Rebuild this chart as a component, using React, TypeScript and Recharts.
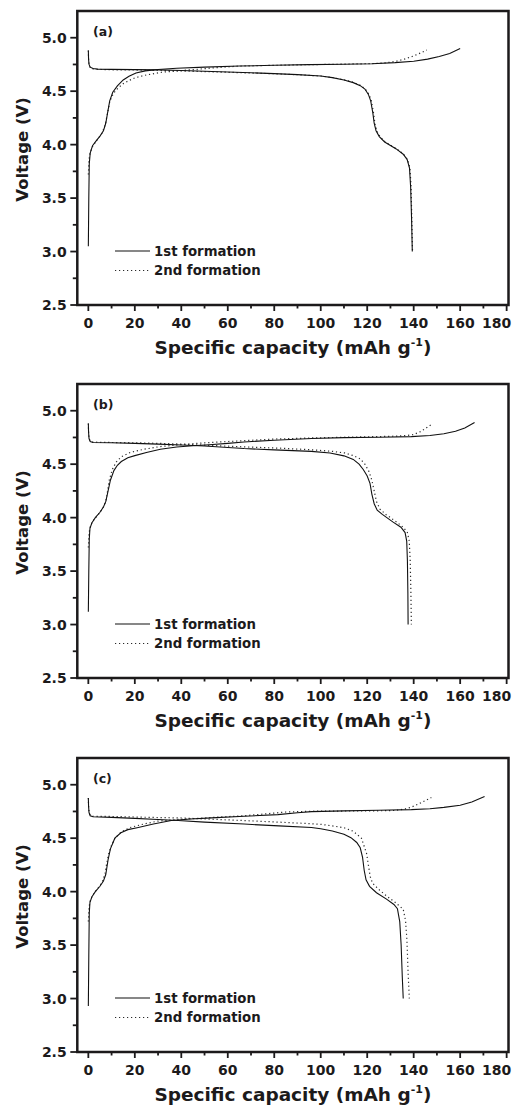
import React from 'react';
import { LineChart, Line, XAxis, YAxis, ReferenceArea } from 'recharts';

type Pt = [number, number]; // [capacity mAh/g, voltage V]

// (a)
const aCharge1: Pt[] = [[0,3.05],[0.2,3.5],[0.4,3.82],[0.8,3.92],[1.8,3.99],[3.2,4.03],[5,4.08],[6.5,4.13],[7.5,4.2],[8.3,4.3],[9.2,4.41],[10.5,4.49],[12.5,4.55],[15,4.605],[17.5,4.64],[20.5,4.67],[24.5,4.69],[30,4.703],[38,4.715],[50,4.725],[65,4.735],[80,4.742],[95,4.748],[110,4.752],[122,4.757],[132,4.767],[140,4.78],[146,4.8],[151,4.825],[155.5,4.853],[160,4.9]];
const aDischarge1: Pt[] = [[0,4.88],[0.1,4.8],[0.3,4.75],[0.8,4.725],[2,4.712],[4,4.706],[10,4.704],[20,4.702],[30,4.699],[40,4.694],[50,4.687],[60,4.68],[70,4.672],[80,4.664],[90,4.655],[100,4.642],[105,4.627],[110,4.605],[114,4.58],[117,4.552],[119,4.52],[120.5,4.47],[121.5,4.41],[122.4,4.3],[123,4.2],[123.8,4.13],[125.2,4.075],[127.5,4.025],[132.5,3.96],[135.5,3.91],[137.2,3.86],[138.2,3.78],[138.7,3.6],[139.1,3.3],[139.4,3.0]];
const aCharge2: Pt[] = [[0,3.72],[0.3,3.86],[0.8,3.93],[2,3.99],[4,4.05],[6,4.11],[7.3,4.19],[8.3,4.3],[9.3,4.41],[10.8,4.48],[12.8,4.53],[15,4.57],[17.5,4.6],[20,4.625],[25,4.652],[32,4.678],[40,4.693],[47,4.705],[55,4.72],[65,4.735],[80,4.742],[95,4.748],[110,4.753],[122,4.758],[128,4.765],[132.5,4.78],[136,4.8],[140,4.83],[143,4.858],[145.7,4.885]];
const aDischarge2: Pt[] = [[0,4.88],[0.1,4.8],[0.3,4.748],[0.8,4.72],[2,4.709],[4,4.704],[10,4.7],[20,4.698],[30,4.694],[40,4.689],[50,4.683],[60,4.677],[70,4.67],[80,4.663],[90,4.654],[100,4.642],[105,4.628],[110,4.607],[114,4.583],[117,4.555],[119.2,4.52],[120.8,4.47],[121.8,4.41],[122.7,4.3],[123.3,4.2],[124.1,4.13],[125.5,4.075],[127.8,4.025],[132.7,3.96],[135.7,3.91],[137.4,3.86],[138.4,3.78],[138.9,3.6],[139.2,3.3],[139.5,3.0]];

// (b)
const bCharge1: Pt[] = [[0,3.12],[0.2,3.5],[0.4,3.8],[0.7,3.9],[1.5,3.95],[3,4.0],[5,4.05],[6.5,4.1],[7.5,4.15],[8.5,4.25],[9.5,4.35],[11,4.44],[12.5,4.49],[14.2,4.525],[17,4.56],[20,4.58],[25,4.61],[31,4.64],[38,4.66],[45,4.672],[52,4.682],[60,4.695],[67,4.708],[80,4.724],[96,4.74],[110,4.748],[125,4.752],[139,4.758],[147,4.768],[153,4.785],[158,4.808],[162,4.838],[166.2,4.89]];
const bDischarge1: Pt[] = [[0,4.88],[0.1,4.8],[0.3,4.74],[0.8,4.712],[2,4.703],[10,4.7],[20,4.695],[30,4.688],[40,4.68],[50,4.67],[60,4.656],[67,4.646],[80,4.634],[96,4.62],[104,4.605],[110,4.578],[114,4.545],[116.5,4.5],[118.3,4.45],[120,4.39],[121.2,4.32],[122,4.22],[123,4.13],[124.3,4.07],[126.5,4.03],[131,3.96],[134.5,3.91],[136.3,3.86],[137,3.78],[137.3,3.6],[137.5,3.3],[137.6,3.0]];
const bCharge2: Pt[] = [[0,3.72],[0.3,3.85],[0.8,3.92],[2,3.97],[4,4.02],[6,4.08],[7.5,4.15],[8.3,4.25],[9,4.35],[10.3,4.45],[12,4.52],[14.2,4.57],[18,4.61],[24,4.64],[31,4.665],[38.6,4.68],[50,4.7],[67,4.72],[80,4.735],[96,4.745],[110,4.752],[125,4.758],[132,4.762],[137,4.768],[140,4.778],[143,4.805],[145.5,4.84],[148.3,4.88]];
const bDischarge2: Pt[] = [[0,4.88],[0.1,4.8],[0.3,4.742],[0.8,4.715],[2,4.706],[10,4.703],[20,4.7],[30,4.695],[40,4.688],[53,4.675],[67,4.662],[82,4.65],[96,4.635],[105,4.62],[110.3,4.605],[114,4.58],[117,4.55],[119,4.5],[120.8,4.43],[122,4.35],[123,4.25],[124,4.15],[125.5,4.08],[128,4.03],[132.6,3.96],[135.5,3.91],[137.3,3.86],[138.1,3.78],[138.5,3.6],[138.8,3.3],[139,3.0]];

// (c)
const cCharge1: Pt[] = [[0,2.93],[0.2,3.4],[0.4,3.8],[0.7,3.9],[1.5,3.95],[3,4.0],[5,4.05],[6.5,4.1],[7.5,4.16],[8.5,4.3],[9.5,4.4],[11.4,4.5],[14,4.55],[17,4.58],[21,4.598],[28,4.632],[35.7,4.665],[44,4.68],[53,4.69],[67,4.705],[81.6,4.72],[90,4.738],[96,4.748],[110,4.755],[125,4.761],[139,4.767],[147,4.775],[153,4.788],[160,4.808],[165,4.838],[170.5,4.89]];
const cDischarge1: Pt[] = [[0,4.876],[0.1,4.8],[0.3,4.74],[0.8,4.71],[2,4.7],[10,4.695],[20,4.685],[30,4.675],[38.6,4.665],[50,4.65],[67,4.632],[82,4.615],[96,4.6],[100,4.588],[105,4.567],[110,4.537],[113,4.505],[115.5,4.46],[117,4.41],[118,4.32],[118.7,4.2],[119.5,4.11],[121,4.05],[124,3.99],[128.3,3.93],[131.5,3.88],[133,3.84],[134,3.72],[134.6,3.5],[135.1,3.2],[135.5,3.0]];
const cCharge2: Pt[] = [[0,3.72],[0.3,3.85],[0.8,3.92],[2,3.97],[4,4.03],[6,4.09],[7.2,4.17],[7.8,4.25],[8.7,4.35],[9.9,4.43],[11.5,4.5],[14.2,4.56],[18,4.6],[24.3,4.635],[30,4.66],[38.6,4.675],[50,4.69],[67,4.71],[75,4.725],[85,4.745],[96,4.752],[110,4.754],[125,4.756],[131.8,4.759],[136,4.772],[139,4.79],[143,4.83],[147.6,4.88]];
const cDischarge2: Pt[] = [[0,4.876],[0.1,4.8],[0.3,4.745],[0.8,4.715],[2,4.705],[10,4.703],[20,4.698],[30,4.693],[38.6,4.69],[50,4.68],[67,4.665],[82,4.65],[96,4.635],[100,4.63],[105,4.615],[110,4.598],[114,4.565],[117.5,4.5],[119.7,4.36],[120.5,4.25],[121.3,4.14],[122.3,4.08],[125,4.02],[128.3,3.96],[132,3.9],[135.5,3.835],[136.5,3.73],[137.1,3.55],[137.6,3.25],[138.1,3.0]];

const X_TICKS = [0, 10, 20, 30, 40, 50, 60, 70, 80, 90, 100, 110, 120, 130, 140, 150, 160, 170, 180];
const Y_TICKS = [2.5, 2.75, 3, 3.25, 3.5, 3.75, 4, 4.25, 4.5, 4.75, 5];
const X_DOMAIN: [number, number] = [-4.75, 180.8];
const Y_DOMAIN: [number, number] = [2.5, 5.25];
const LEGEND = ['1st formation', '2nd formation'];

const panels = [
  { tag: '(a)', top: 0, first: [aCharge1, aDischarge1], second: [aCharge2, aDischarge2] },
  { tag: '(b)', top: 373, first: [bCharge1, bDischarge1], second: [bCharge2, bDischarge2] },
  { tag: '(c)', top: 747, first: [cCharge1, cDischarge1], second: [cCharge2, cDischarge2] },
];

const W = 523;
const H = 373;
const M_TOP = 11;
const Y_AXIS_W = 77.3;
const M_RIGHT = 14.5;
const X_AXIS_H = 68;
const PLOT_H = H - M_TOP - X_AXIS_H;

const INK = '#1c1a1b';
const FONT = '"DejaVu Sans", Arial, sans-serif';
const SOLID = { stroke: '#111', strokeWidth: 1.1 };
const DOTTED = { stroke: '#2a2a2a', strokeWidth: 1.2, strokeDasharray: '1.2 2.8' };

const rows = (pts: Pt[]) => pts.map(([c, v]) => ({ c, v }));

function XTick({ x, y, payload }: any) {
  const v = payload.value as number;
  const major = v % 20 === 0;
  return (
    <g>
      <line x1={x} x2={x} y1={y} y2={y + (major ? 6 : 3.5)} stroke={INK} strokeWidth={1.8} />
      {major && (
        <text x={v === 180 ? x - 10 : x} y={y + 23} textAnchor="middle" fontFamily={FONT}
          fontWeight="bold" fontSize={14} fill={INK}>{v}</text>
      )}
    </g>
  );
}

function YTick({ x, y, payload }: any) {
  const v = payload.value as number;
  const major = Math.abs(v * 2 - Math.round(v * 2)) < 1e-6;
  return (
    <g>
      <line x1={x} x2={x - (major ? 7 : 4.5)} y1={y} y2={y} stroke={INK} strokeWidth={1.8} />
      {major && (
        <text x={x - 10.6} y={y + 5} textAnchor="end" fontFamily={FONT}
          fontWeight="bold" fontSize={14} fill={INK}>{v.toFixed(1)}</text>
      )}
    </g>
  );
}

function Panel({ tag, first, second }: { tag: string; first: Pt[][]; second: Pt[][] }) {
  const plotMidX = Y_AXIS_W + (W - Y_AXIS_W - M_RIGHT) / 2;
  const plotBottom = M_TOP + PLOT_H;
  return (
    <div style={{ position: 'relative', width: W, height: H }}>
      <LineChart width={W} height={H} margin={{ top: M_TOP, right: M_RIGHT, bottom: 0, left: 0 }}>
        <XAxis dataKey="c" type="number" domain={X_DOMAIN} ticks={X_TICKS} interval={0}
          allowDataOverflow axisLine={false} tickLine={false} tickSize={0} tickMargin={0}
          height={X_AXIS_H} tick={(p: any) => <XTick {...p} />} />
        <YAxis type="number" domain={Y_DOMAIN} ticks={Y_TICKS} interval={0}
          allowDataOverflow axisLine={false} tickLine={false} tickSize={0} tickMargin={0}
          width={Y_AXIS_W} tick={(p: any) => <YTick {...p} />} />
        {second.map((pts, i) => (
          <Line key={'s' + i} data={rows(pts)} dataKey="v" type="linear" {...DOTTED}
            dot={false} activeDot={false} isAnimationActive={false} />
        ))}
        {first.map((pts, i) => (
          <Line key={'f' + i} data={rows(pts)} dataKey="v" type="linear" {...SOLID}
            dot={false} activeDot={false} isAnimationActive={false} />
        ))}
        <ReferenceArea x1={X_DOMAIN[0]} x2={X_DOMAIN[1]} y1={Y_DOMAIN[0]} y2={Y_DOMAIN[1]}
          ifOverflow="visible" fill="none" fillOpacity={0} stroke={INK} strokeWidth={2.5} />
      </LineChart>
      <svg width={W} height={H} style={{ position: 'absolute', left: 0, top: 0, pointerEvents: 'none' }}
        fontFamily={FONT} fontWeight="bold" fill={INK}>
        <text x={93} y={M_TOP + 25} fontSize={12.5}>{tag}</text>
        <text transform={`translate(22, ${M_TOP + 138.5}) rotate(-90)`} textAnchor="middle"
          dominantBaseline="central" fontSize={16.5}>Voltage (V)</text>
        <text x={plotMidX} y={plotBottom + 49} textAnchor="middle" fontSize={18.5}>
          Specific capacity (mAh g<tspan dy={-8} fontSize={11}>-1</tspan><tspan dy={8}>)</tspan>
        </text>
        <line x1={115} x2={150} y1={M_TOP + 240} y2={M_TOP + 240} {...SOLID} />
        <text x={154} y={M_TOP + 240} dominantBaseline="central" fontSize={13.3}>{LEGEND[0]}</text>
        <line x1={115} x2={150} y1={M_TOP + 259.5} y2={M_TOP + 259.5} {...DOTTED} />
        <text x={154} y={M_TOP + 259.5} dominantBaseline="central" fontSize={13.3}>{LEGEND[1]}</text>
      </svg>
    </div>
  );
}

export default function App() {
  return (
    <div style={{ position: 'absolute', left: 0, top: 0, width: W, height: 1110, background: '#fff' }}>
      {panels.map((p) => (
        <div key={p.tag} style={{ position: 'absolute', left: 0, top: p.top }}>
          <Panel tag={p.tag} first={p.first} second={p.second} />
        </div>
      ))}
    </div>
  );
}
